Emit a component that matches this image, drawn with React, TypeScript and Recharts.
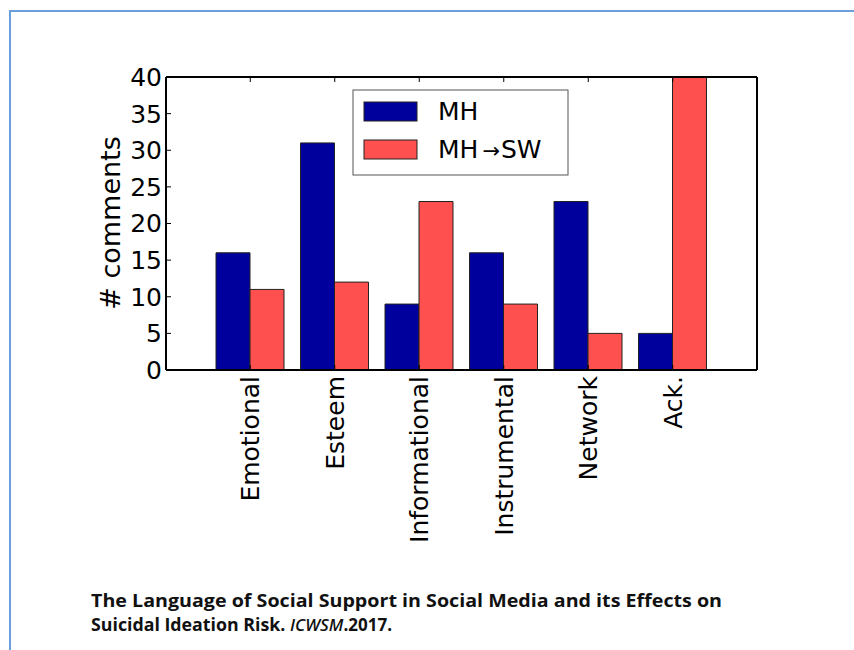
import React from 'react';
import { BarChart, Bar, XAxis, YAxis, Legend } from 'recharts';

const categories = ['Emotional', 'Esteem', 'Informational', 'Instrumental', 'Network', 'Ack.'];
const mhCounts = [16, 31, 9, 16, 23, 5];
const mhToSwCounts = [11, 12, 23, 9, 5, 40];
const yTicks = [0, 5, 10, 15, 20, 25, 30, 35, 40];

const captionLine1 = 'The Language of Social Support in Social Media and its Effects on';
const captionLine2 = 'Suicidal Ideation Risk. ';

const BLUE = '#00009c';
const RED = '#ff5050';
const FONT = '"DejaVu Sans", sans-serif';

const data = categories.map((name, i) => ({
  name,
  mh: mhCounts[i],
  sw: mhToSwCounts[i],
}));

const axisLine = { stroke: '#000', strokeWidth: 2 };
const tickLine = { stroke: '#000', strokeWidth: 1 };

const XTick = (props: any) => {
  const { x, y, payload } = props;
  return (
    <text
      x={x}
      y={y}
      transform={`rotate(-90, ${x}, ${y})`}
      textAnchor="end"
      dy="0.36em"
      fontSize={25}
      fontFamily={FONT}
      fill="#000"
    >
      {payload.value}
    </text>
  );
};

const NoTick = () => <g />;

const LegendBox = () => (
  <svg width={218} height={88} style={{ display: 'block' }}>
    <rect x={1} y={1} width={215} height={85} fill="#fff" stroke="#555" strokeWidth={1} />
    <rect x={12} y={13} width={53} height={19} fill={BLUE} stroke="#222" strokeWidth={1} />
    <rect x={12} y={51} width={53} height={19} fill={RED} stroke="#222" strokeWidth={1} />
    <text x={86} y={31} fontSize={25} fontFamily={FONT} fill="#000">MH</text>
    <text x={86} y={69} fontSize={25} fontFamily={FONT} fill="#000">
      MH<tspan dx={4} fontSize={21}>→</tspan><tspan dx={1}>SW</tspan>
    </text>
  </svg>
);

const App = () => (
  <div style={{ position: 'absolute', left: 0, top: 0, width: 854, height: 650, background: '#fff', overflow: 'hidden' }}>
    {/* slide frame */}
    <div style={{ position: 'absolute', left: 9, top: 10, width: 900, height: 700, borderTop: '2px solid #6a9fdc', borderLeft: '2px solid #6a9fdc' }} />

    <div style={{ position: 'absolute', left: 0, top: 0 }}>
      <BarChart
        width={854}
        height={650}
        data={data}
        margin={{ top: 76, right: 96, bottom: 80, left: 106 }}
        barGap={0}
        barSize={34}
      >
        <XAxis
          dataKey="name"
          xAxisId="bottom"
          orientation="bottom"
          height={200}
          interval={0}
          padding={{ left: 42, right: 42 }}
          axisLine={axisLine}
          tickLine={tickLine}
          tickSize={-5}
          tickMargin={11}
          tick={<XTick />}
        />
        <XAxis
          dataKey="name"
          xAxisId="top"
          orientation="top"
          height={1}
          interval={0}
          padding={{ left: 42, right: 42 }}
          axisLine={axisLine}
          tickLine={tickLine}
          tickSize={-5}
          tick={NoTick}
        />
        <YAxis
          yAxisId="left"
          width={60}
          domain={[0, 40]}
          ticks={yTicks}
          interval={0}
          axisLine={axisLine}
          tickLine={tickLine}
          tickSize={-5}
          tickMargin={9}
          tick={{ fontSize: 25, fontFamily: FONT, fill: '#000' }}
          label={() => {
            const cx = 110;
            const cy = 223;
            return (
              <text
                x={cx}
                y={cy}
                transform={`rotate(-90, ${cx}, ${cy})`}
                textAnchor="middle"
                dy="0.36em"
                fontSize={27}
                fontFamily={FONT}
                fill="#000"
              >
                # comments
              </text>
            );
          }}
        />
        <YAxis
          yAxisId="right"
          orientation="right"
          width={1}
          domain={[0, 40]}
          ticks={yTicks}
          interval={0}
          axisLine={axisLine}
          tickLine={tickLine}
          tickSize={-5}
          tick={NoTick}
        />
        <Legend
          layout="horizontal"
          verticalAlign="middle"
          align="center"
          content={() => <LegendBox />}
          wrapperStyle={{ left: 352, top: 89, width: 218, height: 88 }}
        />
        <Bar dataKey="mh" name="MH" xAxisId="bottom" yAxisId="left" fill={BLUE} stroke="#222" strokeWidth={1} isAnimationActive={false} />
        <Bar dataKey="sw" name="MH→SW" xAxisId="bottom" yAxisId="left" fill={RED} stroke="#222" strokeWidth={1} isAnimationActive={false} />
      </BarChart>
    </div>

    <svg style={{ position: 'absolute', left: 0, top: 0 }} width={854} height={650}>
      <text x={91} y={607} fontSize={17} fontWeight={700} fontFamily='"Open Sans", sans-serif' fill="#111" textLength={631} lengthAdjust="spacingAndGlyphs">
        {captionLine1}
      </text>
      <text x={91} y={631} fontSize={17} fontWeight={700} fontFamily='"Open Sans", sans-serif' fill="#111">
        <tspan textLength={199} lengthAdjust="spacingAndGlyphs">{captionLine2}</tspan>
        <tspan fontStyle="italic" fontWeight={600}>ICWSM</tspan>
        <tspan>.2017.</tspan>
      </text>
    </svg>
  </div>
);

export default App;
